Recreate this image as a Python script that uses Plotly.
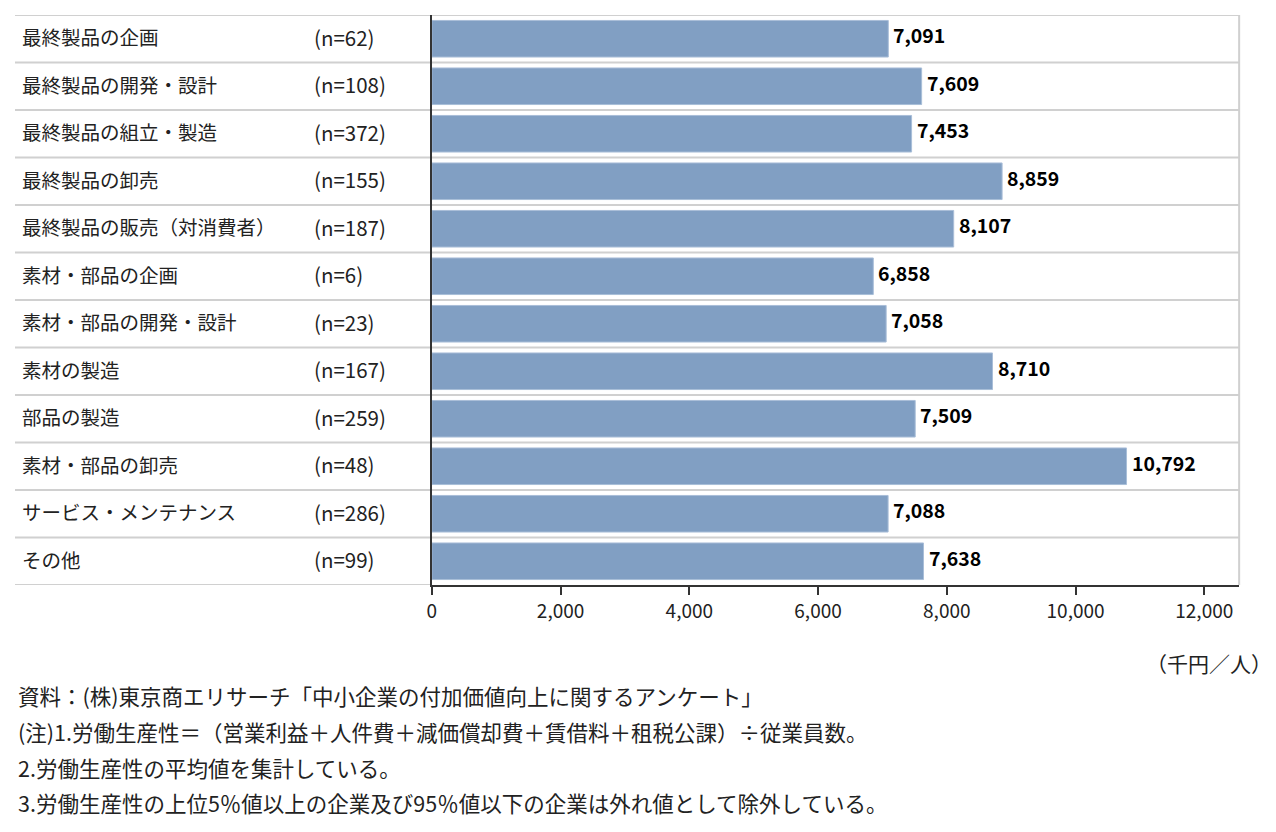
import plotly.graph_objects as go

categories = ["最終製品の企画", "最終製品の開発・設計", "最終製品の組立・製造", "最終製品の卸売",
              "最終製品の販売（対消費者）", "素材・部品の企画", "素材・部品の開発・設計", "素材の製造",
              "部品の製造", "素材・部品の卸売", "サービス・メンテナンス", "その他"]
n_labels = ["(n=62)", "(n=108)", "(n=372)", "(n=155)", "(n=187)", "(n=6)", "(n=23)", "(n=167)",
            "(n=259)", "(n=48)", "(n=286)", "(n=99)"]
values = [7091, 7609, 7453, 8859, 8107, 6858, 7058, 8710, 7509, 10792, 7088, 7638]
tick_vals = [0, 2000, 4000, 6000, 8000, 10000, 12000]
tick_text = ["0", "2,000", "4,000", "6,000", "8,000", "10,000", "12,000"]
notes = ["資料：(株)東京商エリサーチ「中小企業の付加価値向上に関するアンケート」",
         "(注)1.労働生産性＝（営業利益＋人件費＋減価償却費＋賃借料＋租税公課）÷従業員数。",
         "2.労働生産性の平均値を集計している。",
         "3.労働生産性の上位5％値以上の企業及び95％値以下の企業は外れ値として除外している。"]
unit_label = "（千円／人）"

OFF = 8  # page body margin
W, H = 1276 - OFF, 832 - OFF
FONT = "Noto Sans CJK JP"
x0_px, x1_px = 428.5 - OFF, 1239 - OFF
top_px, bot_px = 15 - OFF, 585 - OFF
ph = bot_px - top_px

def py(yref_px):
    return (bot_px - (yref_px - OFF)) / ph

def px(xref_px):
    return (xref_px - OFF) / W

n = len(categories)
y_idx = list(range(n))

fig = go.Figure()
fig.add_trace(go.Bar(
    x=values, y=y_idx, orientation="h",
    marker=dict(color="#819fc3", line=dict(color="#a9bed8", width=1)),
    width=0.77, hoverinfo="skip",
))

shapes = []
for i in range(n + 1):
    yv = i - 0.5
    shapes.append(dict(type="line", xref="paper", yref="y", x0=px(10),
                       x1=(x0_px / W if i == n else x1_px / W),
                       y0=yv, y1=yv, line=dict(color="#d0d0d0", width=2), layer="below"))
shapes.append(dict(type="line", xref="paper", yref="y", x0=x1_px / W, x1=x1_px / W, y0=-0.5, y1=n - 0.5,
                   line=dict(color="#d0d0d0", width=2), layer="below"))

ann = []
for i, (c, nl, v) in enumerate(zip(categories, n_labels, values)):
    ann.append(dict(xref="paper", yref="y", x=px(15), y=i, text=c, showarrow=False, xanchor="left",
                    yshift=2, font=dict(family=FONT, size=19.5, color="#222222")))
    ann.append(dict(xref="paper", yref="y", x=px(308), y=i, text=nl, showarrow=False, xanchor="left",
                    yshift=2, font=dict(family=FONT, size=20.5, color="#222222")))
    ann.append(dict(xref="x", yref="y", x=v, y=i, text=f"{v:,}", showarrow=False, xanchor="left",
                    xshift=3, yshift=4,
                    font=dict(family=FONT, size=19.5, color="#000000", weight="bold")))
ann.append(dict(xref="paper", yref="paper", x=px(1274), y=py(663), text=unit_label, showarrow=False,
                xanchor="right", yanchor="middle", font=dict(family=FONT, size=21, color="#222222")))
for k, t in enumerate(notes):
    yc = [695, 731, 767, 802][k]
    ann.append(dict(xref="paper", yref="paper", x=px(11), y=py(yc), text=t, showarrow=False,
                    xanchor="left", yanchor="middle", font=dict(family=FONT, size=21.5, color="#222222")))

xmax = (x1_px - x0_px) / ((1204 - 428.5) / 12000)

fig.update_layout(
    width=W, height=H, margin=dict(l=0, r=0, t=top_px, b=H - bot_px),
    plot_bgcolor="white", paper_bgcolor="white", showlegend=False,
    xaxis=dict(domain=[x0_px / W, x1_px / W], range=[0, xmax], tickvals=tick_vals, ticktext=tick_text,
               showgrid=False, zeroline=False, showline=True, linecolor="#333333", linewidth=1.5,
               ticks="outside", ticklen=8, tickwidth=2, tickcolor="#333333",
               tickfont=dict(family=FONT, size=19, color="#222222")),
    yaxis=dict(range=[n - 0.5, -0.5], showticklabels=False, showgrid=False, zeroline=False,
               showline=True, linecolor="#333333", linewidth=1.5, ticks=""),
    shapes=shapes, annotations=ann,
)

fig.write_html("out.html")
